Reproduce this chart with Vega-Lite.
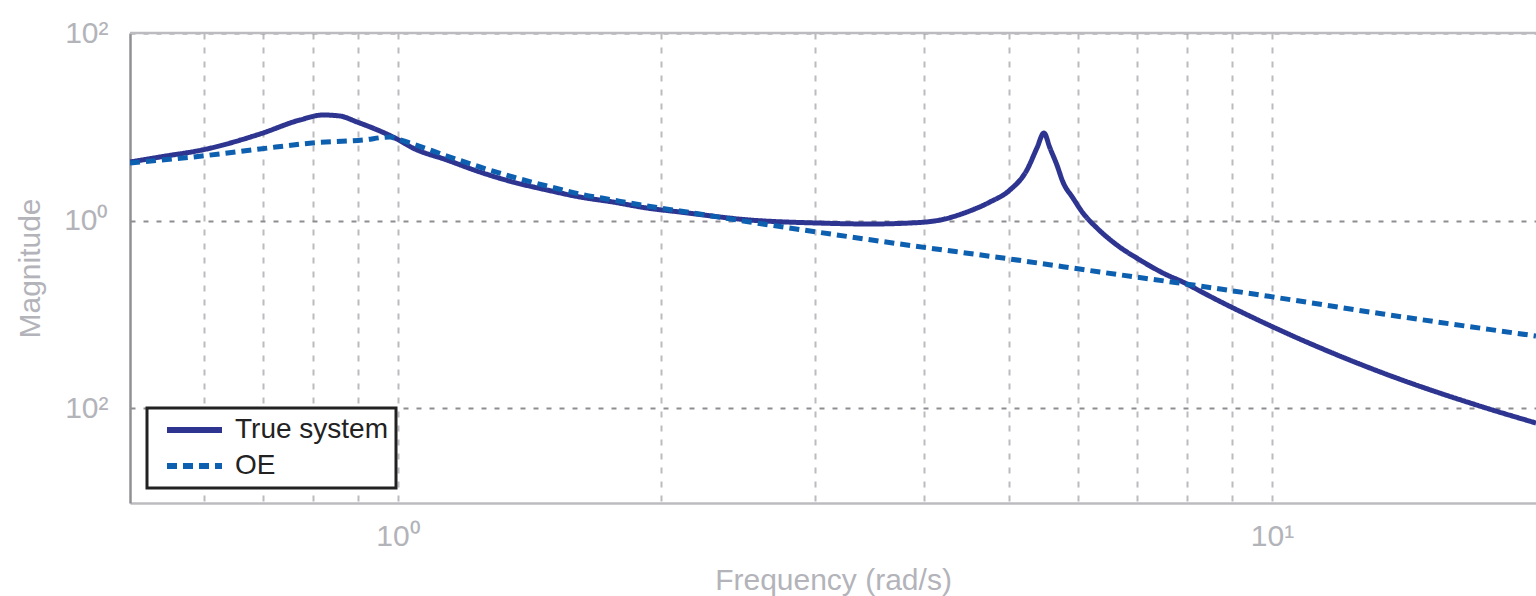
{
  "$schema": "https://vega.github.io/schema/vega-lite/v6.json",
  "width": 1406,
  "height": 470,
  "autosize": {"type": "none"},
  "padding": {"left": 130, "top": 33, "right": 0, "bottom": 93},
  "background": "white",
  "config": {"view": {"stroke": null}, "font": "Liberation Sans"},
  "datasets": {
    "bode": [
      {"series": "True system", "w": 0.4937, "mag": 4.207},
      {"series": "True system", "w": 0.5428, "mag": 4.875},
      {"series": "True system", "w": 0.5967, "mag": 5.649},
      {"series": "True system", "w": 0.6952, "mag": 8.369},
      {"series": "True system", "w": 0.7723, "mag": 11.80},
      {"series": "True system", "w": 0.8208, "mag": 13.35},
      {"series": "True system", "w": 0.8584, "mag": 13.02},
      {"series": "True system", "w": 0.8977, "mag": 11.24},
      {"series": "True system", "w": 0.9537, "mag": 9.008},
      {"series": "True system", "w": 0.9974, "mag": 7.401},
      {"series": "True system", "w": 1.040, "mag": 5.934},
      {"series": "True system", "w": 1.138, "mag": 4.419},
      {"series": "True system", "w": 1.241, "mag": 3.292},
      {"series": "True system", "w": 1.354, "mag": 2.575},
      {"series": "True system", "w": 1.481, "mag": 2.115},
      {"series": "True system", "w": 1.615, "mag": 1.781},
      {"series": "True system", "w": 1.762, "mag": 1.575},
      {"series": "True system", "w": 1.927, "mag": 1.359},
      {"series": "True system", "w": 2.102, "mag": 1.232},
      {"series": "True system", "w": 2.527, "mag": 1.012},
      {"series": "True system", "w": 3.016, "mag": 0.9405},
      {"series": "True system", "w": 3.468, "mag": 0.9177},
      {"series": "True system", "w": 3.853, "mag": 0.9405},
      {"series": "True system", "w": 4.171, "mag": 1.012},
      {"series": "True system", "w": 4.478, "mag": 1.232},
      {"series": "True system", "w": 4.757, "mag": 1.575},
      {"series": "True system", "w": 5.014, "mag": 2.115},
      {"series": "True system", "w": 5.244, "mag": 3.457},
      {"series": "True system", "w": 5.384, "mag": 5.934},
      {"series": "True system", "w": 5.484, "mag": 8.577},
      {"series": "True system", "w": 5.572, "mag": 5.934},
      {"series": "True system", "w": 5.675, "mag": 3.908},
      {"series": "True system", "w": 5.766, "mag": 2.575},
      {"series": "True system", "w": 5.920, "mag": 1.738},
      {"series": "True system", "w": 6.078, "mag": 1.202},
      {"series": "True system", "w": 6.306, "mag": 0.8318},
      {"series": "True system", "w": 6.647, "mag": 0.5478},
      {"series": "True system", "w": 7.063, "mag": 0.3791},
      {"series": "True system", "w": 7.504, "mag": 0.2754},
      {"series": "True system", "w": 7.994, "mag": 0.2102},
      {"series": "True system", "w": 8.272, "mag": 0.1770},
      {"series": "True system", "w": 10.03, "mag": 0.07311},
      {"series": "True system", "w": 13.40, "mag": 0.02362},
      {"series": "True system", "w": 17.43, "mag": 0.01025},
      {"series": "True system", "w": 20.05, "mag": 0.006918},
      {"series": "OE", "w": 0.4937, "mag": 4.106},
      {"series": "OE", "w": 0.5967, "mag": 4.875},
      {"series": "OE", "w": 0.6952, "mag": 5.790},
      {"series": "OE", "w": 0.7974, "mag": 6.709},
      {"series": "OE", "w": 0.9119, "mag": 7.222},
      {"series": "OE", "w": 0.9791, "mag": 7.776},
      {"series": "OE", "w": 0.9974, "mag": 7.401},
      {"series": "OE", "w": 1.040, "mag": 6.546},
      {"series": "OE", "w": 1.138, "mag": 4.875},
      {"series": "OE", "w": 1.241, "mag": 3.721},
      {"series": "OE", "w": 1.354, "mag": 2.911},
      {"series": "OE", "w": 1.481, "mag": 2.333},
      {"series": "OE", "w": 1.615, "mag": 1.918},
      {"series": "OE", "w": 1.762, "mag": 1.654},
      {"series": "OE", "w": 1.927, "mag": 1.428},
      {"series": "OE", "w": 2.102, "mag": 1.263},
      {"series": "OE", "w": 2.527, "mag": 0.9638},
      {"series": "OE", "w": 3.016, "mag": 0.7538},
      {"series": "OE", "w": 3.753, "mag": 0.5615},
      {"series": "OE", "w": 5.014, "mag": 0.3885},
      {"series": "OE", "w": 6.357, "mag": 0.2823},
      {"series": "OE", "w": 8.272, "mag": 0.2001},
      {"series": "OE", "w": 10.03, "mag": 0.1528},
      {"series": "OE", "w": 13.40, "mag": 0.1006},
      {"series": "OE", "w": 20.05, "mag": 0.05861}
    ],
    "frame": [{"m": 100}]
  },
  "layer": [
    {
      "data": {"name": "bode"},
      "mark": {"type": "line", "strokeWidth": 5, "clip": true, "interpolate": "monotone"},
      "encoding": {
        "x": {
          "field": "w",
          "type": "quantitative",
          "scale": {"type": "log", "domain": [0.4937, 20.05], "nice": false},
          "axis": {
            "values": [0.6, 0.7, 0.8, 0.9, 1, 2, 3, 4, 5, 6, 7, 8, 9, 10],
            "labelExpr": "datum.value == 1 ? '10⁰' : datum.value == 10 ? '10¹' : ''",
            "labelFlush": false,
            "labelOverlap": false,
            "labelFontSize": 30,
            "labelColor": "#b3b3ba",
            "labelPadding": 18,
            "ticks": false,
            "grid": true,
            "gridColor": "#bcbcc0",
            "gridDash": [6, 8],
            "gridWidth": 2,
            "domainColor": "#bcbcc0",
            "domainWidth": 2.5,
            "title": "Frequency (rad/s)",
            "titleFontSize": 30,
            "titleFontWeight": "normal",
            "titleColor": "#b3b3ba",
            "titlePadding": 14
          }
        },
        "y": {
          "field": "mag",
          "type": "quantitative",
          "scale": {"type": "log", "domain": [0.00097, 100], "nice": false},
          "axis": {
            "values": [0.01, 1, 100],
            "labelExpr": "datum.value >= 50 ? '10²' : datum.value >= 0.5 ? '10⁰' : '10²'",
            "labelFontSize": 30,
            "labelColor": "#b3b3ba",
            "labelPadding": 22,
            "ticks": false,
            "grid": true,
            "gridColor": "#8e8e92",
            "gridDash": [5, 8],
            "gridWidth": 2,
            "domainColor": "#909094",
            "domainWidth": 2.5,
            "title": "Magnitude",
            "titleFontSize": 30,
            "titleFontWeight": "normal",
            "titleColor": "#b3b3ba",
            "titlePadding": 18
          }
        },
        "color": {
          "field": "series",
          "type": "nominal",
          "sort": ["True system", "OE"],
          "scale": {"domain": ["True system", "OE"], "range": ["#2e3590", "#0d5fb0"]},
          "legend": {
            "title": null,
            "orient": "none",
            "legendX": 17,
            "legendY": 375,
            "direction": "vertical",
            "padding": 8,
            "strokeColor": "#222222",
            "fillColor": "white",
            "symbolType": "M-0.2,0H5.3",
            "symbolSize": 400,
            "symbolStrokeWidth": 6,
            "labelOffset": 52,
            "labelFontSize": 28,
            "labelColor": "#222222",
            "labelFont": "Liberation Sans",
            "rowPadding": 8,
            "encode": {"legend": {"update": {"strokeWidth": {"value": 3}}}}
          }
        },
        "strokeDash": {
          "field": "series",
          "type": "nominal",
          "sort": ["True system", "OE"],
          "scale": {"domain": ["True system", "OE"], "range": [[1, 0], [10, 6]]},
          "legend": null
        }
      }
    },
    {
      "data": {"name": "frame"},
      "mark": {"type": "rule", "color": "#bcbcc0", "strokeWidth": 2.5},
      "encoding": {"y": {"field": "m", "type": "quantitative"}}
    }
  ]
}
